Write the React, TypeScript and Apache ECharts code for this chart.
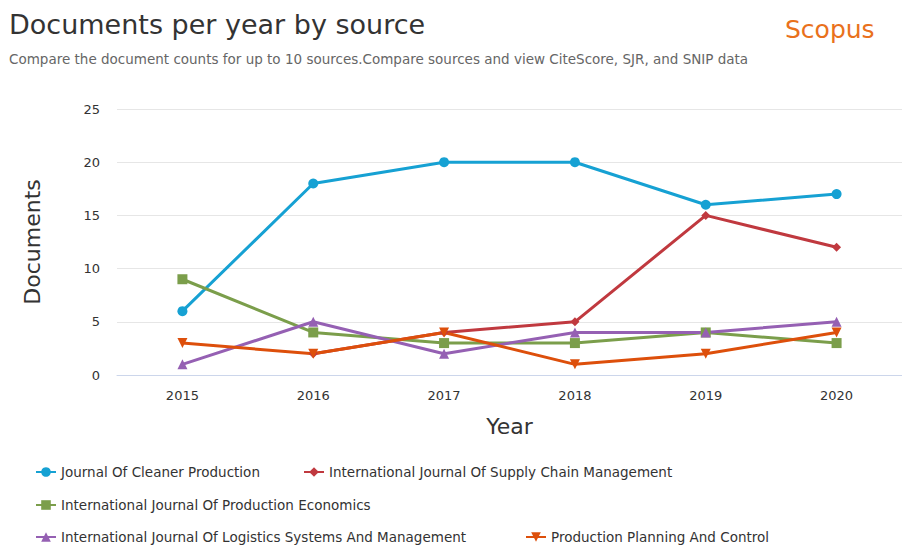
import React, { useEffect, useRef } from "react";
import * as echarts from "echarts";

const years = ["2015", "2016", "2017", "2018", "2019", "2020"];
const seriesNames = [
  "Journal Of Cleaner Production",
  "International Journal Of Supply Chain Management",
  "International Journal Of Production Economics",
  "International Journal Of Logistics Systems And Management",
  "Production Planning And Control",
];
const cleaner = [6, 18, 20, 20, 16, 17];
const supplyChain = [null, 2, 4, 5, 15, 12];
const prodEcon = [9, 4, 3, 3, 4, 3];
const logistics = [1, 5, 2, 4, 4, 5];
const planning = [3, 2, 4, 1, 2, 4];
const yTicks = [0, 5, 10, 15, 20, 25];

const colors = ["#16a1d3", "#c0393f", "#7b9e4b", "#9560b3", "#dd4f0b"];
const symbols = ["circle", "diamond", "rect", "triangle", "triangle"];
const rotations = [0, 0, 0, 0, 180];
const sizes = [10, 9, 10, 10, 10];
const values = [cleaner, supplyChain, prodEcon, logistics, planning];

const legendPos = [
  { left: 35, top: 465 },
  { left: 303, top: 465 },
  { left: 35, top: 498 },
  { left: 35, top: 530 },
  { left: 525, top: 530 },
];

const FONT = "DejaVu Sans";

export default function App() {
  const ref = useRef<HTMLDivElement>(null);
  useEffect(() => {
    const chart = echarts.init(ref.current!, null, { renderer: "svg" });
    chart.setOption({
      animation: false,
      textStyle: { fontFamily: FONT },
      title: [
        {
          text: "Documents per year by source",
          left: 9,
          top: 11,
          padding: 0,
          textStyle: { fontFamily: FONT, fontSize: 27, fontWeight: "normal", color: "#333333" },
        },
        {
          text: "Compare the document counts for up to 10 sources.Compare sources and view CiteScore, SJR, and SNIP data",
          left: 9,
          top: 52,
          padding: 0,
          textStyle: { fontFamily: FONT, fontSize: 13.5, fontWeight: "normal", color: "#666666" },
        },
        {
          text: "Scopus",
          left: 785,
          top: 17,
          padding: 0,
          textStyle: { fontFamily: FONT, fontSize: 25, fontWeight: "normal", color: "#e9711c" },
        },
      ],
      legend: seriesNames.map((n, i) => ({
        data: [n],
        left: legendPos[i].left,
        top: legendPos[i].top,
        padding: 0,
        itemWidth: 20,
        itemHeight: 12,
        selectedMode: false,
        textStyle: { fontFamily: FONT, fontSize: 13.5, color: "#333333" },
      })),
      grid: { left: 117, right: 0, top: 109, bottom: 170, containLabel: false },
      xAxis: {
        type: "category",
        data: years,
        boundaryGap: true,
        name: "Year",
        nameLocation: "middle",
        nameGap: 40,
        nameTextStyle: { fontFamily: FONT, fontSize: 22, color: "#333333" },
        axisLine: { lineStyle: { color: "#ccd6eb" } },
        axisTick: { show: false },
        axisLabel: { fontFamily: FONT, fontSize: 13, color: "#333333", margin: 14 },
      },
      yAxis: {
        type: "value",
        min: 0,
        max: 25,
        interval: 5,
        name: "Documents",
        nameLocation: "middle",
        nameGap: 74,
        nameTextStyle: { fontFamily: FONT, fontSize: 22, color: "#333333" },
        axisLine: { show: false },
        axisTick: { show: false },
        axisLabel: {
          fontFamily: FONT,
          fontSize: 13,
          color: "#333333",
          margin: 17,
          formatter: (v: number) => (yTicks.includes(v) ? String(v) : ""),
        },
        splitLine: { lineStyle: { color: "#e6e6e6" } },
      },
      series: seriesNames.map((n, i) => ({
        name: n,
        type: "line",
        data: values[i],
        color: colors[i],
        symbol: symbols[i],
        symbolSize: sizes[i],
        symbolRotate: rotations[i],
        showAllSymbol: true,
        lineStyle: { width: 3 },
        connectNulls: false,
      })),
    });
    return () => chart.dispose();
  }, []);
  return (
    <div
      ref={ref}
      style={{ position: "absolute", left: 0, top: 0, width: 902, height: 545, background: "#fff" }}
    />
  );
}
